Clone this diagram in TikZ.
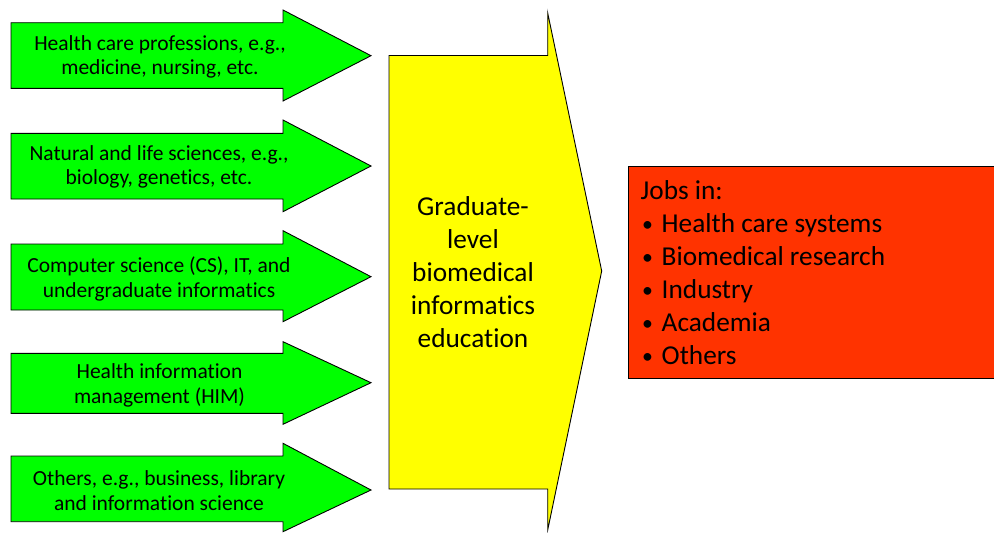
\documentclass[tikz,border=0pt]{standalone}
\usepackage{fontspec}
\setmainfont{Carlito}[Ligatures={NoCommon}]
\usepackage{graphicx}
\definecolor{arrowgreen}{HTML}{00FF00}
\definecolor{eduyellow}{HTML}{FFFF00}
\definecolor{jobred}{HTML}{FF3300}
\newcommand\greenarrow[5]{%
  \draw[garrow] (11,#1) -- (283,#1) -- (283,#3) -- (371,#5) -- (283,#4) -- (283,#2) -- (11,#2) -- cycle;}
\newcommand\jobbullet{\makebox[21pt][l]{\hspace{1.5pt}\raisebox{1.2pt}{\scalebox{0.8}{\textbullet}}}}
\begin{document}
\begin{tikzpicture}[x=1pt,y=-1pt,
  garrow/.style={fill=arrowgreen,draw=black,line width=0.9pt,line join=miter},
  gtext/.style={align=center,inner sep=0pt,font=\fontsize{21.5}{24.5}\selectfont},
  bigtext/.style={inner sep=0pt,font=\fontsize{27.3}{33}\selectfont}]
\useasboundingbox (0,0) rectangle (994,533);
% green input arrows
\greenarrow{22.7}{88.3}{10}{101}{55.7}
\greenarrow{133.3}{199}{120}{211.7}{166}
\greenarrow{244}{310}{230.7}{321.7}{276.7}
\greenarrow{353.3}{413.3}{341.7}{424.3}{382.7}
\greenarrow{456}{521.7}{443.3}{531.7}{490}
\node[gtext] (t1) at (160,57) {Health care professions, e.g.,\\medicine, nursing, etc.};
\node[gtext] (t2) at (159,167) {Natural and life sciences, e.g.,\\biology, genetics, etc.};
\node[gtext] (t3) at (159,278.8) {Computer science (CS), IT, and\\undergraduate informatics};
\node[gtext] (t4) at (159.5,385.2) {Health information\\management (HIM)};
\node[gtext] (t5) at (159,490.8) {Others, e.g., business, library\\and information science};
% yellow arrow
\draw[fill=eduyellow,draw=black,line width=0.9pt,line join=miter]
  (389,55.5) -- (547.7,55.5) -- (547.7,13) -- (601.7,271) -- (547.7,530) -- (547.7,489) -- (389,489) -- cycle;
\node[bigtext,align=center] (edu) at (473,272.5) {Graduate-\\level\\biomedical\\informatics\\education};
% red box
\draw[fill=jobred,draw=black,line width=0.9pt] (628.7,166) rectangle (1000,378.7);
\node[bigtext,align=left,anchor=north west] (jobs) at (640.5,180.5)
  {Jobs in:\\
   \jobbullet Health care systems\\
   \jobbullet Biomedical research\\
   \jobbullet Industry\\
   \jobbullet Academia\\
   \jobbullet Others};
\end{tikzpicture}
\end{document}
